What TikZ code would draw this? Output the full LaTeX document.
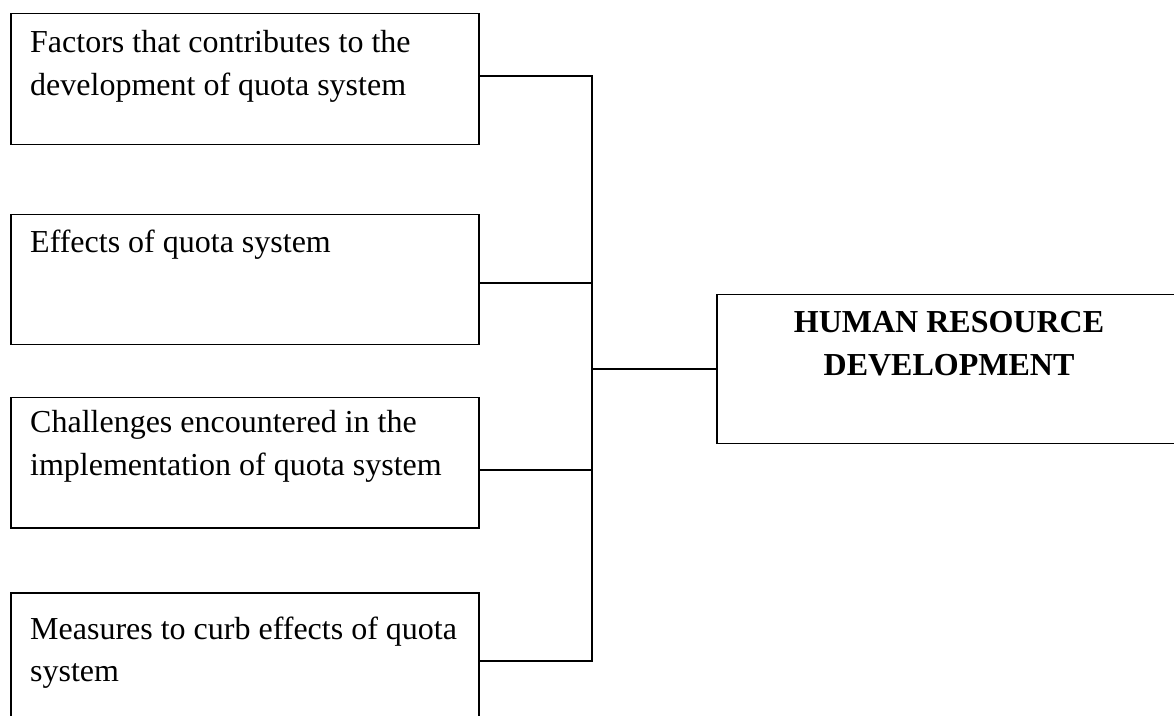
\documentclass[tikz,border=0pt]{standalone}
\usepackage{fontspec}
\setmainfont{Liberation Serif}
\begin{document}
\begin{tikzpicture}[x=1pt,y=1pt,
  box/.style={draw=black,line width=1.5pt,rectangle,inner sep=0pt,anchor=north west},
  txt/.style={anchor=base west,inner sep=0pt,font=\fontsize{32}{42.5}\selectfont},
  htxt/.style={anchor=base,inner sep=0pt,font=\fontsize{32}{43}\selectfont\bfseries},
  wire/.style={draw=black,line width=1.5pt}]
\useasboundingbox (0,0) rectangle (1174,715);
\clip (0,0) rectangle (1174,715);
\fill[white] (0,0) rectangle (1174,715);
% left boxes
\node[box,minimum width=468pt,minimum height=131pt] (b1) at (10,702) {};
\node[box,minimum width=468pt,minimum height=130pt] (b2) at (10,501) {};
\node[box,minimum width=468pt,minimum height=130pt] (b3) at (10,318) {};
\node[box,minimum width=468pt,minimum height=140pt] (b4) at (10,123) {};
% right box
\node[box,minimum width=466pt,minimum height=149pt] (hr) at (716,421) {};
% texts
\node[txt] (t1) at (30,662) {\begin{tabular}[t]{@{}l@{}}Factors that contributes to the\\development of quota system\end{tabular}};
\node[txt] (t2) at (30,462) {Effects of quota system};
\node[txt] (t3) at (30,282) {\begin{tabular}[t]{@{}l@{}}Challenges encountered in the\\implementation of quota system\end{tabular}};
\node[txt] (t4) at (30,76) {\begin{tabular}[t]{@{}l@{}}Measures to curb effects of quota\\system\end{tabular}};
\node[htxt] (th) at (949,382) {\begin{tabular}[t]{@{}c@{}}HUMAN RESOURCE\\DEVELOPMENT\end{tabular}};
% bus
\coordinate (j1) at (592,639);
\coordinate (j2) at (592,432);
\coordinate (j3) at (592,245);
\coordinate (j4) at (592,54);
\coordinate (jh) at (592,346);
\draw[wire] (b1.east |- j1) -- (j1) -- (j4) -- (b4.east |- j4);
\draw[wire] (b2.east |- j2) -- (j2);
\draw[wire] (b3.east |- j3) -- (j3);
\draw[wire] (jh) -- (hr.west |- jh);
\end{tikzpicture}
\end{document}
